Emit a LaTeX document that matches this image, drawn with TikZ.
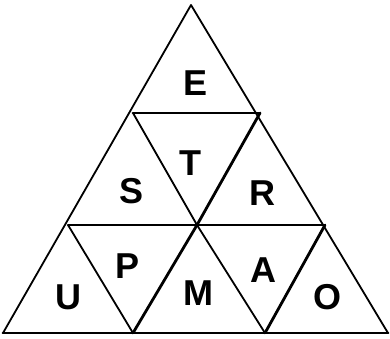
\documentclass[tikz,border=0pt]{standalone}
\usepackage{fontspec}
\setmainfont{Liberation Sans}
\usetikzlibrary{positioning}

\begin{document}
\begin{tikzpicture}[x=1pt, y=-1pt,
  edge/.style={line width=1.8pt, line cap=round, line join=round},
  heavy/.style={line width=2.8pt, line cap=round},
  letter/.style={font=\bfseries, inner sep=0pt, scale=3.6}]
\useasboundingbox (0,0) rectangle (390,338);

% LAYER 1: Vertices
\coordinate (apex) at (191,5);
\coordinate (b1) at (133,113);
\coordinate (b2) at (260,113);
\coordinate (c1) at (68,225);
\coordinate (c2) at (197,225);
\coordinate (c3) at (325,225);
\coordinate (d1) at (3,333);
\coordinate (d2) at (133,333);
\coordinate (d3) at (265,333);
\coordinate (d4) at (388,333);

% LAYER 2: Outline and inner lines
\draw[edge] (d1) -- (apex) -- (d4) -- cycle;
\draw[heavy] (d1) -- (d4);
\draw[heavy] (b1) -- (b2);
\draw[edge] (c1) -- (c3);
\draw[edge] (b1) -- (c2) -- (d3);
\draw[heavy] (b2) -- (c2) -- (d2);
\draw[edge] (c1) -- (d2);
\draw[heavy] (c3) -- (d3);

% LAYER 3: Letters
\node[letter] (e) at (196,83) {E};
\node[letter] (t) at (190,163) {T};
\node[letter] (s) at (132,191) {S};
\node[letter] (r) at (262,193) {R};
\node[letter] (u) at (68,297) {U};
\node[letter] (p) at (128,266) {P};
\node[letter] (m) at (198,293) {M};
\node[letter] (a) at (263,270) {A};
\node[letter] (o) at (327,297) {O};
\end{tikzpicture}
\end{document}
